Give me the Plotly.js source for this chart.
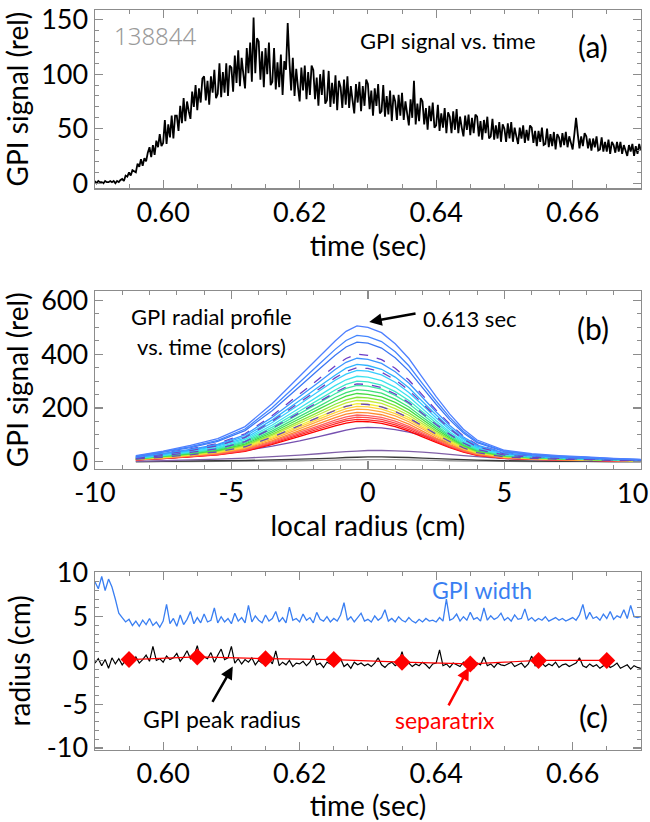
<!DOCTYPE html>
<html><head><meta charset="utf-8">
<script src="https://cdn.plot.ly/plotly-3.0.1.min.js"></script>
<style>html,body{margin:0;padding:0;background:#fff}#chart{width:650px;height:822px}</style>
</head><body><div id="chart"></div>
<script>
// ---------- Panel (a): GPI signal vs time ----------
const signalT0 = 0.59;
const signalDt = 0.00025;
const gpiSignal = [
2,0,2,1,1,0,2,1, 1,2,1,2,0,2,1,3, 4,2,7,6,10,7,12,11, 10,18,15,22,16,23,20,28,
33,24,35,26,39,33,45,34, 37,58,36,54,42,62,41,62, 62,48,71,55,78,57,75,66, 59,84,70,90,67,87,74,96,
98,76,94,72,98,83,104,78, 82,110,79,102,83,110,80,108, 106,84,117,92,122,89,115,100, 87,124,101,129,93,152,101,133,
130,95,121,88,124,100,129,90, 93,124,86,111,88,118,81,112, 104,147,112,85,115,80,105,88, 75,106,85,108,77,102,81,108,
104,77,97,71,100,81,104,73, 76,103,70,92,73,99,67,94, 88,69,95,72,98,69,89,76, 64,91,74,93,66,89,71,95,
91,68,85,62,87,71,91,64, 66,90,61,80,63,85,57,81, 75,58,81,62,83,58,75,64, 53,77,60,94,54,73,57,78,
75,54,69,49,71,57,74,51, 53,72,48,64,51,69,46,65, 61,46,66,49,68,46,61,51, 43,62,49,63,44,60,46,63,
61,43,57,40,58,46,61,41, 43,59,40,53,41,56,38,54, 50,38,55,41,56,38,51,43, 36,51,41,53,37,49,39,53,
51,37,48,34,48,38,51,35, 36,50,33,45,34,47,31,45, 42,33,46,35,47,33,43,37, 31,45,60,45,32,43,34,46,
43,32,41,30,41,33,43,30, 31,42,29,38,29,40,27,38, 35,28,38,29,38,27,35,30, 25,35,29,36,25,34,27,36,
30];

// ---------- Panel (b): radial profiles (early times dark/purple -> red -> ... -> blue at 0.613 s) ----------
const profileRadius = [-8.5,-7.5,-6.5,-5.5,-4.5,-3.5,-2.5,-1.8,-1.2,-0.8,-0.4,0,0.5,1,1.5,2,2.5,3,3.5,4,5,6,7,8,9,10];
const profileColors = ['#9a9a9a','#3a3a3a','#8060a8','#7650b0',
  '#ff0000','#ff2a2a','#ff4b4b','#ff6262','#ff8a30','#ffa840','#ffd23c','#f2ee3a','#c4ec3a',
  '#84e63c','#44dc44','#3ee07a','#3ee8a6','#3ee8cc','#3ee2ee','#36ccff','#30b4ff',
  '#6848b8','#6a40c4','#7044c0','#6a3cc8',
  '#3c96ff','#3c78f4','#4486ff','#4f80ff'];
const profileDash = ['solid','solid','solid','solid',
  'solid','solid','solid','solid','solid','solid','solid','solid','solid',
  'solid','solid','solid','solid','solid','solid','solid','solid',
  'dash','dash','dash','dash',
  'solid','solid','solid','solid'];
const profileValues = [
[0,1,1,2,2,3,4,5,6,7,7,8,8,8,7,6,5,4,3,3,2,1,1,1,0,0],
[1,2,3,4,5,7,10,12,14,16,17,18,18,17,16,14,12,10,8,6,4,3,2,2,1,1],
[2,4,7,10,14,19,25,30,35,38,40,42,42,41,39,36,32,28,23,19,12,8,6,4,3,2],
[6,12,20,30,42,58,78,94,108,118,125,128,126,120,110,98,85,70,55,42,24,15,10,7,5,4],
[7,12,18,26,39,65,95,116,134,144,150,149,143,131,114,93,72,53,36,24,13,9,7,5,4,3],
[7,13,19,27,41,68,100,122,141,152,158,156,150,137,120,98,76,55,38,25,13,9,7,6,4,3],
[7,13,20,28,43,71,105,128,148,159,166,164,158,144,126,103,80,58,40,27,14,10,7,6,4,3],
[8,14,21,30,45,75,110,134,155,167,174,172,165,151,132,108,84,61,42,28,15,10,8,6,4,3],
[8,15,22,31,48,79,116,142,164,177,184,182,175,160,140,114,88,64,44,29,16,11,8,6,5,3],
[9,16,24,33,51,84,123,151,174,188,196,194,186,171,149,122,94,69,47,31,17,12,9,7,5,4],
[9,16,25,35,54,89,130,159,183,198,206,204,196,179,157,128,99,72,49,33,18,12,9,7,5,4],
[10,17,26,37,56,93,136,166,192,207,216,214,205,188,164,134,104,76,52,35,18,13,10,8,5,4],
[10,18,27,39,59,98,144,176,203,219,228,226,217,198,173,141,109,80,55,36,19,14,10,8,6,4],
[11,19,29,41,62,103,151,185,214,230,240,238,228,209,182,149,115,84,58,38,20,14,11,8,6,4],
[11,20,30,43,66,109,160,196,226,244,254,251,241,221,193,157,122,89,61,41,22,15,11,9,6,5],
[12,21,32,46,70,115,169,206,239,257,268,265,255,233,204,166,129,94,64,43,23,16,12,9,7,5],
[13,23,34,48,74,122,179,219,253,273,284,281,270,247,216,176,136,99,68,45,24,17,13,10,7,5],
[14,24,36,51,78,129,189,231,267,288,300,297,285,261,228,186,144,105,72,48,26,18,14,11,8,5],
[14,25,38,54,83,137,200,245,283,305,318,315,302,277,242,197,153,111,76,51,27,19,14,11,8,6],
[15,27,41,58,88,146,214,262,303,326,340,337,323,296,258,211,163,119,82,54,29,20,15,12,9,6],
[16,29,43,62,94,156,228,279,322,348,362,358,344,315,275,224,174,127,87,58,31,22,16,13,9,7],
[10,17,26,37,56,92,135,166,191,206,215,213,204,187,163,133,103,75,52,34,18,13,10,8,5,4],
[13,23,35,49,75,125,183,223,258,278,290,287,276,252,220,180,139,102,70,46,25,17,13,10,7,5],
[16,28,42,60,91,151,221,270,312,336,350,347,333,305,266,217,168,123,84,56,30,21,16,12,9,6],
[18,32,48,68,104,172,252,308,356,384,400,396,380,348,304,248,192,140,96,64,34,24,18,14,10,7],
[17,31,46,65,100,166,243,296,343,370,385,381,366,335,293,239,185,135,92,62,33,23,17,13,10,7],
[20,36,53,76,116,191,280,343,396,427,445,441,423,387,338,276,214,156,107,71,38,27,20,16,11,8],
[21,38,56,80,122,202,296,362,418,451,470,465,447,409,357,291,226,165,113,75,40,28,21,16,12,8],
[23,40,61,86,131,217,318,389,449,485,505,500,480,439,384,313,242,177,121,81,43,30,23,18,13,9]
];

// ---------- Panel (c): width, peak radius, separatrix ----------
const radiusT0 = 0.59;
const radiusDt = 0.0005;
const gpiWidth = [
9.0,8.2,9.6,8.0,9.3,8.4,7.0,5.4,4.9,4.4,
4.7,4.0,4.5,3.9,4.6,4.1,4.8,4.0,4.4,3.8,
4.5,6.4,4.2,4.8,3.9,5.2,4.1,4.7,5.6,4.2,
4.9,4.3,5.3,4.4,4.6,6.0,4.3,5.0,4.4,4.8,
4.2,5.4,4.5,4.9,4.3,6.3,4.4,5.1,4.6,4.3,
5.2,4.5,4.8,5.6,4.4,4.9,4.3,6.1,4.6,4.8,
4.4,5.3,4.6,4.9,4.3,5.5,4.7,4.5,5.0,4.4,
4.8,4.5,5.2,6.6,4.6,5.0,4.4,4.9,5.4,4.5,
4.7,4.4,5.1,4.6,4.9,5.8,4.5,4.8,4.4,5.0,
4.6,4.4,4.9,4.5,4.3,4.7,4.4,4.8,4.5,4.6,
4.4,4.9,4.5,7.0,4.6,4.8,5.3,4.5,5.0,4.6,
5.5,4.7,4.9,4.5,6.0,4.6,5.1,4.7,4.9,5.4,
4.6,4.9,4.5,5.2,4.7,4.8,5.9,4.6,4.9,4.5,
4.8,4.6,5.0,4.5,4.7,4.9,4.6,4.8,4.5,4.7,
4.9,4.6,5.2,6.4,4.7,5.5,4.8,5.0,4.6,5.3,
4.8,5.6,4.7,5.1,4.9,5.8,4.8,6.3,5.0,4.9,5.0];
const gpiPeakRadius = [
-0.3,0.2,-0.6,0.1,-0.9,0.3,-0.4,0.2,-0.5,0.0,
0.3,-0.2,0.4,-0.3,0.1,0.6,-0.1,1.6,0.0,0.2,
-0.2,0.5,0.1,0.3,0.8,-0.1,0.4,1.1,0.2,0.5,
1.7,0.0,0.4,0.2,0.9,-0.2,0.6,1.3,0.1,0.3,
1.6,-0.3,0.2,-0.4,0.1,-0.2,0.3,-0.5,0.0,-0.3,
-0.1,0.2,-0.4,1.1,-0.6,-0.2,-0.5,0.0,-0.7,-0.3,
-0.4,-0.1,-0.6,-0.2,0.6,-0.5,-0.3,-0.8,-0.2,-0.4,
-0.6,-0.3,0.2,-0.7,-0.4,-0.9,-0.2,-0.5,-0.3,-0.6,
-0.4,-0.7,-0.3,0.3,-0.5,-0.8,-0.4,-0.2,-0.6,-0.3,
1.0,-0.5,-0.3,-0.7,-0.4,-0.6,-0.2,-0.5,-0.9,-0.4,
-0.3,1.2,-0.6,-0.4,-0.8,-0.3,-0.5,-0.7,-0.2,-0.6,
-0.4,-0.9,-0.3,-0.5,0.4,-0.6,-0.4,-0.8,-0.3,-0.5,
-0.6,-0.4,-0.2,-0.7,-0.5,-0.3,-0.8,-0.4,0.5,-0.6,
-0.5,-0.3,-0.7,-0.4,-0.6,-0.2,-0.8,-0.5,-0.4,-0.7,
-0.5,-0.3,0.3,-0.6,-0.8,-0.4,-0.7,-0.5,-0.9,-0.6,
-0.4,-0.8,-0.6,-0.3,-0.9,-0.7,-0.5,-1.0,-0.6,-0.8,-0.9];
const sepTimes = [0.595,0.605,0.615,0.625,0.635,0.645,0.655,0.665];
const sepRadius = [0.1,0.4,0.2,0.1,-0.2,-0.4,0.0,0.0];

// ---------- Tick labels ----------
const timeTicks = [0.60,0.62,0.64,0.66];
const timeTickText = ['0.60','0.62','0.64','0.66'];
const radiusTicksB = [-10,-5,0,5,10];
const radiusTickTextB = ['-10','-5','0','5',''];   // "10" is drawn right-aligned at the edge below
const radiusEdgeLabel = '10';
const radiusTicksC = [-10,-5,0,5,10];
const radiusTickTextC = ['-10','-5','0','5','10'];

const FONT = 'Lato, "Open Sans", sans-serif';
const AX = '#8c8c8c';

function axisStyle(extra){
  return Object.assign({
    showline:true, linecolor:AX, linewidth:1.3, mirror:'ticks',
    ticks:'inside', ticklen:8, tickwidth:1.3, tickcolor:AX,
    showgrid:false, zeroline:false, automargin:false, ticklabeloverflow:'allow',
    tickfont:{family:FONT, size:27, color:'#000', weight:'normal'},
  }, extra);
}
const minorStyle = (d,t0)=>({dtick:d, tick0:t0, ticks:'inside', ticklen:4, tickcolor:AX, tickwidth:1});

const traces = [];
traces.push({type:'scatter', mode:'lines', x0:signalT0, dx:signalDt, y:gpiSignal,
  line:{color:'#000', width:1.8, simplify:false}, xaxis:'x', yaxis:'y', showlegend:false, hoverinfo:'skip'});

for (let i=0;i<profileValues.length;i++){
  traces.push({type:'scatter', mode:'lines', x:profileRadius, y:profileValues[i],
    line:{color:profileColors[i], width:1.3, dash:profileDash[i], simplify:false}, xaxis:'x2', yaxis:'y2', showlegend:false, hoverinfo:'skip'});
}

traces.push({type:'scatter', mode:'lines', x0:radiusT0, dx:radiusDt, y:gpiWidth,
  line:{color:'#3a7ff2', width:1.3, simplify:false}, xaxis:'x3', yaxis:'y3', showlegend:false, hoverinfo:'skip'});
traces.push({type:'scatter', mode:'lines', x0:radiusT0, dx:radiusDt, y:gpiPeakRadius,
  line:{color:'#000', width:1.2, simplify:false}, xaxis:'x3', yaxis:'y3', showlegend:false, hoverinfo:'skip'});
traces.push({type:'scatter', mode:'lines+markers', x:sepTimes, y:sepRadius,
  line:{color:'#ff0000', width:1.2}, marker:{symbol:'diamond', size:13, color:'#ff0000'},
  xaxis:'x3', yaxis:'y3', showlegend:false, hoverinfo:'skip'});

const titleFont = {family:FONT, size:28, color:'#000', weight:'normal'};
const annFont = (s,c)=>({family:FONT, size:s, color:c||'#000', weight:'normal'});

const layout = {
  width:650, height:822, margin:{l:0,r:0,t:0,b:0},
  paper_bgcolor:'#fff', plot_bgcolor:'#fff', showlegend:false,
  xaxis: axisStyle({domain:[0.146,0.986], anchor:'y', range:[0.59,0.67], tickvals:timeTicks, ticktext:timeTickText,
    minor:minorStyle(0.005,0.59), title:{text:'time (sec)', font:titleFont, standoff:8}}),
  yaxis: axisStyle({domain:[0.771,0.988], anchor:'x', range:[-4.6,159], tickvals:[0,50,100,150],
    minor:minorStyle(10,0), title:{text:'GPI signal (rel)', font:titleFont, standoff:8}}),
  xaxis2: axisStyle({domain:[0.146,0.986], anchor:'y2', range:[-10,10], tickvals:radiusTicksB, ticktext:radiusTickTextB,
    minor:minorStyle(1,0), title:{text:'local radius (cm)', font:titleFont, standoff:8}}),
  yaxis2: axisStyle({domain:[0.430,0.646], anchor:'x2', range:[-25,635], tickvals:[0,200,400,600],
    minor:minorStyle(50,0), title:{text:'GPI signal (rel)', font:titleFont, standoff:8}}),
  xaxis3: axisStyle({domain:[0.146,0.986], anchor:'y3', range:[0.59,0.67], tickvals:timeTicks, ticktext:timeTickText,
    minor:minorStyle(0.005,0.59), title:{text:'time (sec)', font:titleFont, standoff:8}}),
  yaxis3: axisStyle({domain:[0.088,0.304], anchor:'x3', range:[-10.2,10.1], tickvals:radiusTicksC, ticktext:radiusTickTextC,
    minor:minorStyle(1,0), title:{text:'radius (cm)', font:titleFont, standoff:8}}),
  annotations:[
    {xref:'paper', yref:'paper', x:1, y:1-492/822, xanchor:'right', yanchor:'middle', showarrow:false,
      text:radiusEdgeLabel, font:{family:FONT, size:27, color:'#000', weight:'normal'}},
    {xref:'paper', yref:'paper', x:112/650, y:1-35/822, xanchor:'left', yanchor:'middle', showarrow:false,
      text:'138844', font:{family:'"Noto Sans", "DejaVu Sans"', size:24, color:'#9a9a9a', weight:300}},
    {xref:'paper', yref:'paper', x:448/650, y:1-40/822, xanchor:'center', yanchor:'middle', showarrow:false,
      text:'GPI signal vs. time', font:annFont(22)},
    {xref:'paper', yref:'paper', x:593/650, y:1-46/822, xanchor:'center', yanchor:'middle', showarrow:false,
      text:'(a)', font:annFont(30)},
    {xref:'paper', yref:'paper', x:212/650, y:1-316/822, xanchor:'center', yanchor:'middle', showarrow:false,
      text:'GPI radial profile', font:annFont(22)},
    {xref:'paper', yref:'paper', x:212/650, y:1-346/822, xanchor:'center', yanchor:'middle', showarrow:false,
      text:'vs. time (colors)', font:annFont(22)},
    {xref:'x2', yref:'y2', x:0.05, y:520, ax:1.8, ay:552, axref:'x2', ayref:'y2', showarrow:true,
      arrowhead:2, arrowsize:1, arrowwidth:2.5, arrowcolor:'#000', text:''},
    {xref:'paper', yref:'paper', x:421/650, y:1-318/822, xanchor:'left', yanchor:'middle', showarrow:false,
      text:'0.613 sec', font:annFont(22)},
    {xref:'paper', yref:'paper', x:593/650, y:1-328/822, xanchor:'center', yanchor:'middle', showarrow:false,
      text:'(b)', font:annFont(30)},
    {xref:'paper', yref:'paper', x:482/650, y:1-590/822, xanchor:'center', yanchor:'middle', showarrow:false,
      text:'GPI width', font:annFont(23,'#3a7ff2')},
    {xref:'x3', yref:'y3', x:0.6102, y:-0.7, ax:0.6071, ay:-4.9, axref:'x3', ayref:'y3', showarrow:true,
      arrowhead:2, arrowsize:1, arrowwidth:2.5, arrowcolor:'#000', text:''},
    {xref:'x3', yref:'y3', x:0.6448, y:-0.8, ax:0.6417, ay:-5.3, axref:'x3', ayref:'y3', showarrow:true,
      arrowhead:2, arrowsize:1, arrowwidth:2.5, arrowcolor:'#ff0000', text:''},
    {xref:'paper', yref:'paper', x:222/650, y:1-719/822, xanchor:'center', yanchor:'middle', showarrow:false,
      text:'GPI peak radius', font:annFont(23)},
    {xref:'paper', yref:'paper', x:445/650, y:1-720/822, xanchor:'center', yanchor:'middle', showarrow:false,
      text:'separatrix', font:annFont(23,'#ff0000')},
    {xref:'paper', yref:'paper', x:593/650, y:1-716/822, xanchor:'center', yanchor:'middle', showarrow:false,
      text:'(c)', font:annFont(30)}
  ]
};

Plotly.newPlot('chart', traces, layout, {staticPlot:true, displayModeBar:false});
</script>
</body></html>
